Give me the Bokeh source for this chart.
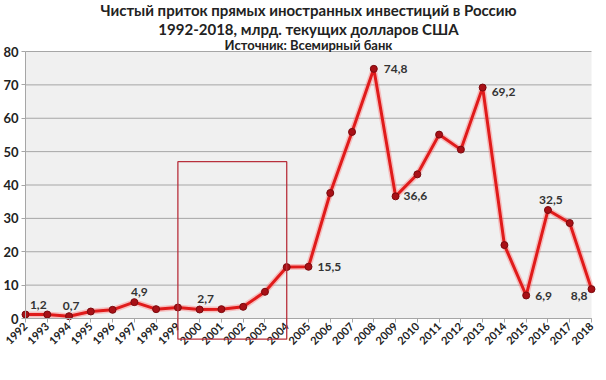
import math
from bokeh.plotting import figure
from bokeh.models import Range1d, BoxAnnotation, Label, FixedTicker, ColumnDataSource
from bokeh.core.properties import value
from bokeh.embed import file_html
from bokeh.resources import INLINE

years = list(range(1992, 2019))
fdi = [1.2, 1.2, 0.7, 2.1, 2.6, 4.9, 2.8, 3.3, 2.7, 2.8, 3.5, 8.0, 15.4, 15.5,
       37.6, 55.9, 74.8, 36.6, 43.2, 55.1, 50.6, 69.2, 22.0, 6.9, 32.5, 28.6, 8.8]

label_years = [1993, 1994, 1997, 2000, 2005, 2008, 2009, 2013, 2015, 2016, 2018]
label_texts = ["1,2", "0,7", "4,9", "2,7", "15,5", "74,8", "36,6", "69,2", "6,9", "32,5", "8,8"]
y_ticks = [0, 10, 20, 30, 40, 50, 60, 70, 80]
title_lines = ["Чистый приток прямых иностранных инвестиций в Россию",
               "1992-2018, млрд. текущих долларов США",
               "Источник: Всемирный банк"]
highlight_years = [1999, 2004]
highlight_top = 47.0
highlight_bottom = -6.2

FONT = "Lato"
W, H = 606, 380
# pixel layout of the plot area
PX_LEFT, PX_RIGHT = 25, 591      # x of first / last year
PX_TOP, PX_ZERO = 51, 318        # y of top tick / zero
xs = (PX_RIGHT - PX_LEFT) / (years[-1] - years[0])
ys = (PX_ZERO - PX_TOP) / (y_ticks[-1] - y_ticks[0])
X_MIN = years[0] - PX_LEFT / xs
X_MAX = years[-1] + (W - PX_RIGHT) / xs
Y_MAX = y_ticks[-1] + PX_TOP / ys
Y_MIN = y_ticks[0] - (H - PX_ZERO) / ys

p = figure(width=W, height=H, output_backend="svg", toolbar_location=None, title=None,
           x_range=Range1d(X_MIN, X_MAX), y_range=Range1d(Y_MIN, Y_MAX),
           min_border_left=0, min_border_right=0, min_border_bottom=0, min_border_top=0)

p.background_fill_color = "white"
p.border_fill_color = "white"
p.outline_line_color = None

# plot area shading
p.add_layout(BoxAnnotation(bottom=y_ticks[0], top=y_ticks[-1], left=years[0], right=years[-1],
                           fill_color="#f0f0f0", fill_alpha=1, line_color=None, level="underlay"))

# titles (pixel centers from top)
title_px = [9, 28, 44]
title_sizes = ["15px", "15px", "13px"]
xc = (years[0] + years[-1]) / 2
for txt, py, fs in zip(title_lines, title_px, title_sizes):
    p.add_layout(Label(x=xc, y=y_ticks[-1] + (PX_TOP - py) / ys, text=txt, text_align="center",
                       text_baseline="middle", text_font=FONT, text_font_size=fs,
                       text_font_style="bold", text_color="#222222"))

# grid lines only across the plot area
p.xgrid.grid_line_color = None
p.ygrid.grid_line_color = None
p.segment(x0=[years[0]] * len(y_ticks), x1=[years[-1]] * len(y_ticks), y0=y_ticks, y1=y_ticks,
          line_color="#a6a6a6", line_width=1)

p.yaxis.ticker = FixedTicker(ticks=y_ticks)
p.yaxis.bounds = (y_ticks[0], y_ticks[-1])
p.yaxis.fixed_location = years[0]
p.xaxis.ticker = FixedTicker(ticks=years)
p.xaxis.bounds = (years[0], years[-1])
p.xaxis.fixed_location = 0
for ax in (p.xaxis, p.yaxis):
    ax.axis_line_color = "#a6a6a6"
    ax.major_tick_line_color = "#a6a6a6"
    ax.major_tick_in = 0
    ax.major_tick_out = 4
    ax.minor_tick_line_color = None
    ax.major_label_text_font = FONT
    ax.major_label_text_font_style = "bold"
    ax.major_label_text_color = "#222222"
p.yaxis.major_label_text_font_size = "13px"
p.xaxis.major_label_text_font_size = "11px"
p.xaxis.major_label_orientation = math.pi / 4
p.yaxis.major_label_standoff = 3
p.xaxis.major_label_standoff = 2

# glow + line
p.line(years, fdi, line_color="#ff6060", line_width=6, line_alpha=0.35)
p.line(years, fdi, line_color="#e01b1b", line_width=3)
p.scatter(years, fdi, size=7, fill_color="#a81016", line_color="#7a0a0e", line_width=1)

# data labels (offsets in screen pixels)
vals = dict(zip(years, fdi))
xo = {1993: -9, 1994: 2, 1997: 5, 2000: 6, 2005: 9, 2008: 10, 2009: 8, 2013: 9, 2015: 9, 2016: 3, 2018: -4}
yo = {1993: -9, 1994: -10, 1997: -10, 2000: -10, 2005: 0, 2008: 0, 2009: 0, 2013: 4, 2015: 1, 2016: -10, 2018: 7}
al = {1993: "center", 1994: "center", 1997: "center", 2000: "center", 2005: "left", 2008: "left",
      2009: "left", 2013: "left", 2015: "left", 2016: "center", 2018: "right"}
src = ColumnDataSource(dict(
    x=label_years, y=[vals[y] for y in label_years], t=label_texts,
    xo=[xo[y] for y in label_years], yo=[yo[y] for y in label_years],
    al=[al[y] for y in label_years]))
p.text(x="x", y="y", text="t", x_offset="xo", y_offset="yo", text_align="al",
       text_baseline="middle", source=src, text_font=value(FONT), text_font_style="bold",
       text_font_size="12px", text_color="#333333")

box = BoxAnnotation(left=highlight_years[0], right=highlight_years[1], top=highlight_top,
                    bottom=highlight_bottom, fill_alpha=0, line_color="#b8303c",
                    line_alpha=1, line_width=1.3)
p.add_layout(box)

open("out.html", "w").write(file_html(p, INLINE))
